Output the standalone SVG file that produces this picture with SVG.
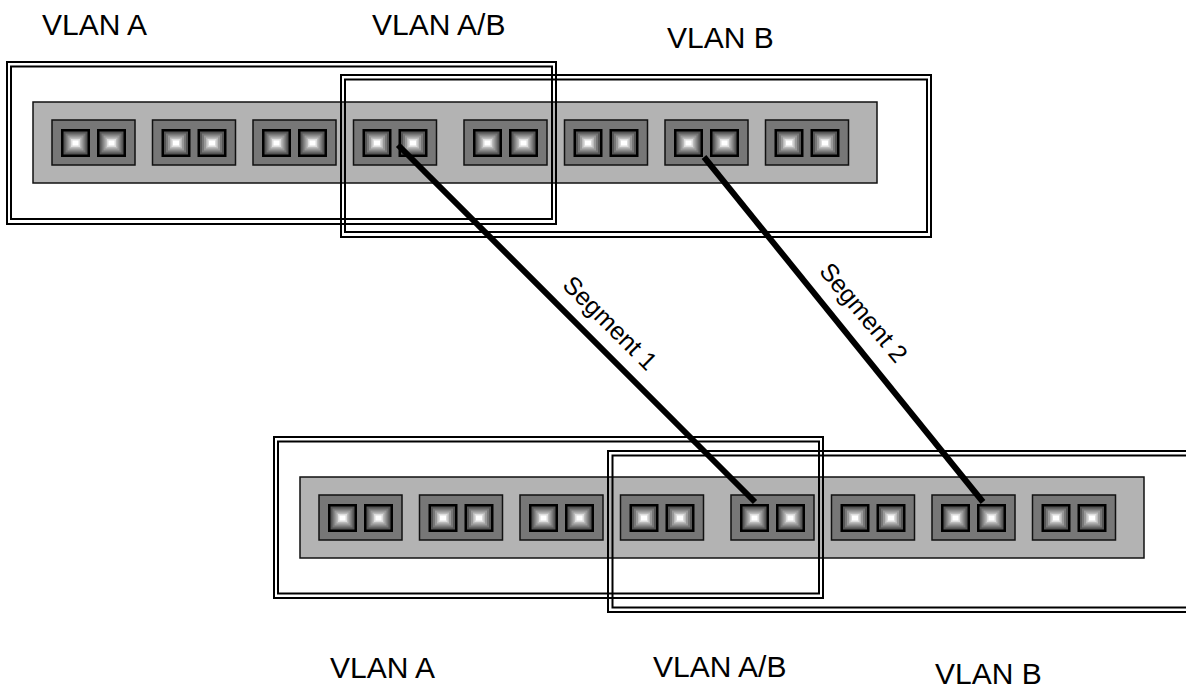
<svg xmlns="http://www.w3.org/2000/svg" xmlns:xlink="http://www.w3.org/1999/xlink" width="1186" height="691" viewBox="0 0 1186 691">
<style>
.body{fill:#b3b3b3;stroke:#111;stroke-width:1.5}
.mod{fill:#777;stroke:#111;stroke-width:1.5}
.vlan{fill:none;stroke:#000;stroke-width:2}
.seg{stroke:#000;stroke-width:6;stroke-linecap:butt}
.lbl{font-family:"Liberation Sans",Arial,sans-serif;font-size:30px;fill:#000}
.slbl{font-family:"Liberation Sans",Arial,sans-serif;font-size:25px;fill:#000}
</style>
<defs>
<g id="port">
<rect x="0" y="0" width="29" height="28" fill="#000"/>
<rect x="2.5" y="2.5" width="24" height="23" fill="#555"/>
<rect x="4.5" y="4.5" width="20" height="19" fill="#777"/>
<rect x="6.5" y="6.5" width="16" height="15" fill="#999"/>
<rect x="8.5" y="8.5" width="12" height="11" fill="#bbb"/>
<rect x="10" y="10" width="9" height="8" fill="#ddd"/>
<rect x="11.5" y="11.5" width="6" height="5" fill="#fff"/>
</g>
<g id="module">
<rect class="mod" x="0" y="0" width="83" height="45"/>
<use xlink:href="#port" href="#port" x="9" y="9"/>
<use xlink:href="#port" href="#port" x="45" y="9"/>
</g>
<g id="switch">
<rect class="body" x="0" y="0" width="844" height="81"/>
<use xlink:href="#module" href="#module" x="19" y="18"/>
<use xlink:href="#module" href="#module" x="119.5" y="18"/>
<use xlink:href="#module" href="#module" x="220" y="18"/>
<use xlink:href="#module" href="#module" x="320.5" y="18"/>
<use xlink:href="#module" href="#module" x="431" y="18"/>
<use xlink:href="#module" href="#module" x="531.5" y="18"/>
<use xlink:href="#module" href="#module" x="632" y="18"/>
<use xlink:href="#module" href="#module" x="732.5" y="18"/>
</g>
</defs>
<rect width="1186" height="691" fill="#fff"/>

<g id="switch-top">
<use xlink:href="#switch" href="#switch" x="33" y="102"/>
</g>
<g id="switch-bottom">
<use xlink:href="#switch" href="#switch" x="300" y="477"/>
</g>

<g id="vlan-a-top">
<rect class="vlan" x="7" y="62" width="549" height="162"/>
<rect class="vlan" x="11" y="66.5" width="541" height="152.5"/>
</g>
<g id="vlan-b-top">
<rect class="vlan" x="341" y="75" width="590" height="162"/>
<rect class="vlan" x="345" y="79.5" width="582" height="152.5"/>
</g>
<g id="vlan-a-bottom">
<rect class="vlan" x="274" y="437" width="549" height="161"/>
<rect class="vlan" x="278" y="441.5" width="541" height="152"/>
</g>
<g id="vlan-b-bottom">
<rect class="vlan" x="608" y="451" width="600" height="161"/>
<rect class="vlan" x="612.5" y="455.5" width="600" height="152"/>
</g>

<g id="connectors">
<line class="seg" x1="398" y1="145" x2="755" y2="502"/>
<line class="seg" x1="704" y1="157" x2="983" y2="502"/>
<text class="slbl" x="604" y="329" text-anchor="middle" transform="rotate(45 604 329)">Segment 1</text>
<text class="slbl" x="857" y="318" text-anchor="middle" transform="rotate(50 857 318)">Segment 2</text>
</g>

<g id="labels">
<text class="lbl" x="42" y="35">VLAN A</text>
<text class="lbl" x="372" y="35">VLAN A/B</text>
<text class="lbl" x="667" y="48">VLAN B</text>
<text class="lbl" x="330" y="678">VLAN A</text>
<text class="lbl" x="653" y="677">VLAN A/B</text>
<text class="lbl" x="935" y="684">VLAN B</text>
</g>
</svg>
